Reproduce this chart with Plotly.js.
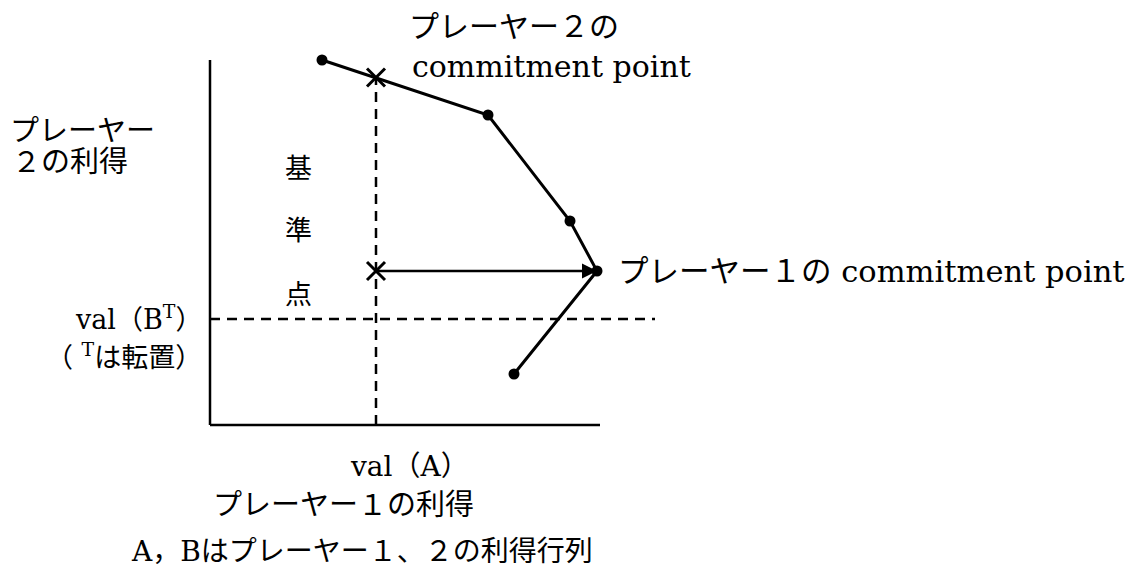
<!DOCTYPE html>
<html>
<head>
<meta charset="utf-8">
<script src="https://cdn.plot.ly/plotly-3.0.1.min.js"></script>
<style>html,body{margin:0;padding:0;background:#fff;}</style>
</head>
<body>
<div id="chart" style="width:1142px;height:574px;"></div>
<script>
// Payoff points (player 1 payoff, player 2 payoff)
const frontierX = [11.2, 27.8, 36.0, 38.7, 30.4];
const frontierY = [36.5, 31.0, 20.4, 15.4, 5.1];
// security levels
const valA = 16.6;      // val(A)
const valBT = 10.6;     // val(B^T)
// commitment points
const commit2 = [16.6, 34.75];   // player 2 commitment (on frontier at x = val(A))
const commit1 = [38.7, 15.4];    // player 1 commitment
const refPoint = [16.6, 15.4];   // reference point on the dashed line
const axisXMax = 39.0, axisYMax = 36.5, dashXMax = 44.5;

// layout helpers: convert page pixel positions to data units (layout only)
const X0 = 210, Y0 = 425, S = 10;
const px = v => (v - X0) / S;
const py = v => (Y0 - v) / S;

const FONT = "'DejaVu Serif', 'Noto Sans CJK JP', serif";
const JFONT = "'Noto Sans CJK JP', 'DejaVu Serif', sans-serif";

const traces = [
  { x: frontierX, y: frontierY, mode: 'lines+markers', type: 'scatter',
    line: {color: '#000', width: 3},
    marker: {color: '#000', size: 11}, hoverinfo: 'skip' },
  { x: [commit2[0], refPoint[0]], y: [commit2[1], refPoint[1]], mode: 'markers', type: 'scatter',
    marker: {symbol: 'x-thin', size: 18, line: {color: '#000', width: 3}}, hoverinfo: 'skip' }
];

function ann(text, x, y, size, opts) {
  return Object.assign({ text: text, x: px(x), y: py(y), xref: 'x', yref: 'y',
    showarrow: false, xanchor: 'center', yanchor: 'middle',
    font: {family: FONT, size: size, color: '#000'} }, opts || {});
}

const annotations = [
  // arrow from reference point to player 1 commitment point
  { x: commit1[0], y: commit1[1], ax: refPoint[0], ay: refPoint[1], xref: 'x', yref: 'y',
    axref: 'x', ayref: 'y', text: '', showarrow: true, arrowhead: 2, arrowsize: 1.2,
    arrowwidth: 2.5, arrowcolor: '#000', standoff: 0 },
  ann('プレーヤー２の', 407, 26, 30, {xanchor: 'left'}),
  ann('commitment point', 410, 66, 30, {xanchor: 'left'}),
  ann('プレーヤー', 8, 131, 29, {xanchor: 'left'}),
  ann('２の利得', 10, 162, 29, {xanchor: 'left'}),
  ann('基', 298, 166, 27, {font: {family: JFONT, size: 27, color: '#000'}}),
  ann('準', 298, 228, 27, {font: {family: JFONT, size: 27, color: '#000'}}),
  ann('点', 298, 292, 27, {font: {family: JFONT, size: 27, color: '#000'}}),
  ann('プレーヤー１の commitment point', 616, 271, 30.5, {xanchor: 'left'}),
  ann('val（B<sup>T</sup>）', 204, 317, 27, {xanchor: 'right'}),
  ann('（ <sup>T</sup>は転置）', 204, 355, 27, {xanchor: 'right'}),
  ann('val（A）', 409, 466, 28),
  ann('プレーヤー１の利得', 343, 505, 29),
  ann('A，Bはプレーヤー１、２の利得行列', 362, 551, 28)
];

const shapes = [
  // axes
  {type: 'line', x0: 0, y0: 0, x1: 0, y1: axisYMax, xref: 'x', yref: 'y', line: {color: '#000', width: 2.5}},
  {type: 'line', x0: 0, y0: 0, x1: axisXMax, y1: 0, xref: 'x', yref: 'y', line: {color: '#000', width: 2.5}},
  // val(A) dashed vertical
  {type: 'line', x0: valA, y0: 0, x1: valA, y1: commit2[1], xref: 'x', yref: 'y', line: {color: '#000', width: 2.5, dash: '10px,7px'}},
  // val(B^T) dashed horizontal
  {type: 'line', x0: 0, y0: valBT, x1: dashXMax, y1: valBT, xref: 'x', yref: 'y', line: {color: '#000', width: 2.5, dash: '10px,7px'}}
];

const layout = {
  width: 1142, height: 574,
  margin: {l: 0, r: 0, t: 0, b: 0},
  paper_bgcolor: '#fff', plot_bgcolor: '#fff',
  showlegend: false,
  xaxis: {range: [px(0), px(1142)], visible: false, fixedrange: true},
  yaxis: {range: [py(574), py(0)], visible: false, fixedrange: true},
  shapes: shapes,
  annotations: annotations
};

Plotly.newPlot('chart', traces, layout, {displayModeBar: false, staticPlot: true});
</script>
</body>
</html>
